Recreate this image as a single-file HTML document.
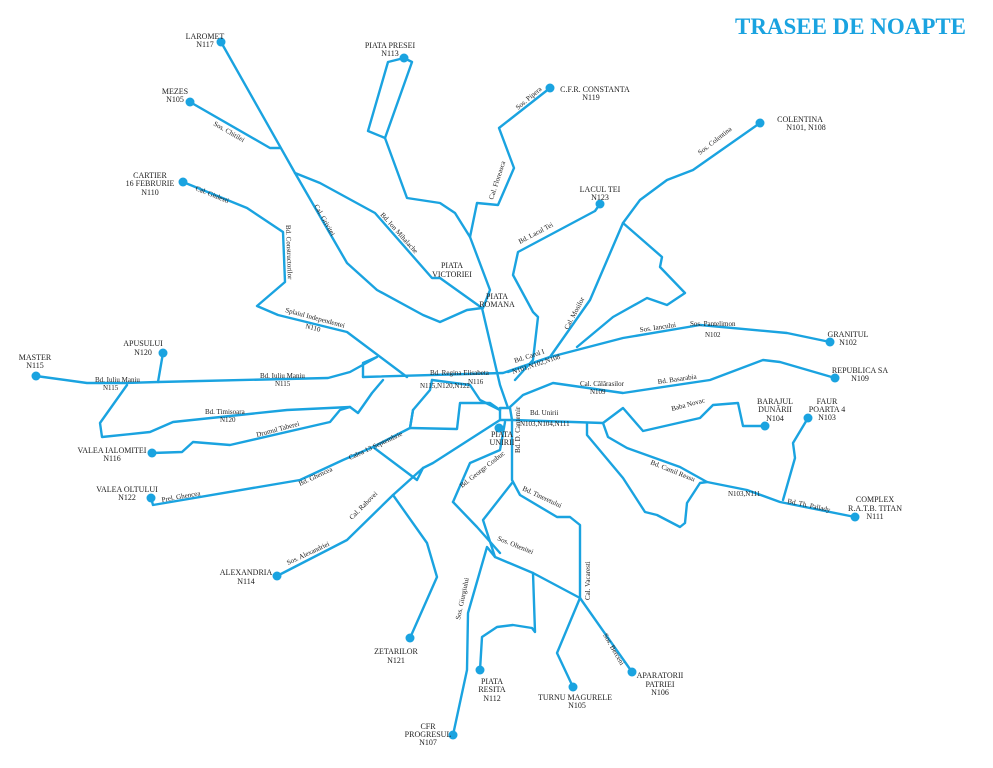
<!DOCTYPE html>
<html><head><meta charset="utf-8"><style>
html,body{margin:0;padding:0;background:#fff;}
svg{display:block;}
text{font-family:"Liberation Serif",serif;font-size:8px;fill:#222;}
.t{font-size:23px;font-weight:bold;fill:#1aa3e0;}
.s{font-size:7px;fill:#222;}
</style></head><body>
<svg width="993" height="768" viewBox="0 0 993 768" xmlns="http://www.w3.org/2000/svg">
<text class="t" x="735" y="34" textLength="231" lengthAdjust="spacingAndGlyphs">TRASEE DE NOAPTE</text>
<g fill="none" stroke="#1aa3e0" stroke-width="2.4" stroke-linejoin="round" stroke-linecap="round">
<polyline points="221,42 295,173 347,263 377,290 423,315 440,322 467,310 482,308"/>
<polyline points="190,102 270,148 280,148"/>
<polyline points="295,173 320,183 375,213 432,278 440,278 482,308"/>
<polyline points="183,182 247,208 283,232 285,282 257,306 278,315 347,332 407,377"/>
<polyline points="404,58 412,62 385,138 368,131 388,62 404,58"/>
<polyline points="385,138 407,198 440,203 455,213 470,237 490,290 483,308"/>
<polyline points="550,88 499,128 514,168 498,205 477,203 470,237"/>
<polyline points="482,308 500,385 508,408"/>
<polyline points="600,204 595,211 518,252 513,275 533,312 538,317 533,360 515,380"/>
<polyline points="760,123 693,170 667,180 640,200 623,223 590,300 550,357"/>
<polyline points="623,223 662,257 660,267 685,293 667,305 647,298 613,317 577,347"/>
<polyline points="508,372 550,357 623,338 700,325 787,333 830,342"/>
<polyline points="363,377 503,373 550,357"/>
<polyline points="510,407 523,395 553,383 623,393 710,380 763,360 780,362 835,378"/>
<polyline points="500,408 510,408 512,420 500,420 500,408"/>
<polyline points="512,420 603,423 623,408 643,431 700,418 713,405 738,403 743,426 765,426"/>
<polyline points="603,423 608,437 627,448 680,467 707,482 747,490 780,502 855,517"/>
<polyline points="808,418 793,443 795,458 783,500"/>
<polyline points="587,423 587,435 623,478 645,512 657,515 680,527 685,523 687,503 700,483 707,482"/>
<polyline points="512,420 512,480 520,495 557,517 570,517 580,525 580,598 557,653 573,687"/>
<polyline points="580,598 632,672"/>
<polyline points="512,483 483,520 495,557 533,573 580,598"/>
<polyline points="533,573 535,632 532,628 513,625 497,627 482,637 480,670"/>
<polyline points="453,735 467,670 468,613 487,547 495,557"/>
<polyline points="453,502 477,527 500,553"/>
<polyline points="453,502 470,463 500,450 505,422"/>
<polyline points="500,420 433,463 423,468 393,495 347,540 277,576"/>
<polyline points="393,495 427,543 437,577 410,638"/>
<polyline points="413,410 410,428 373,447 343,460 300,480 153,505 151,498"/>
<polyline points="373,447 417,480 423,468"/>
<polyline points="410,428 413,410 430,390 432,380"/>
<polyline points="410,428 457,429 460,403 490,403 500,410"/>
<polyline points="152,453 182,452 193,442 230,445 330,422 340,410 350,407 358,413 372,393 383,380"/>
<polyline points="350,407 287,410 173,422 150,432 102,437 100,423 127,385"/>
<polyline points="36,376 87,383 125,383 158,382 328,378 350,372 377,357 363,363 363,377"/>
<polyline points="163,353 158,382"/>
<polyline points="432,380 470,385 480,400 500,410"/>
</g>
<g fill="#1aa3e0">
<circle cx="221" cy="42" r="4.5"/><circle cx="190" cy="102" r="4.5"/><circle cx="183" cy="182" r="4.5"/>
<circle cx="404" cy="58" r="4.5"/><circle cx="550" cy="88" r="4.5"/><circle cx="600" cy="204" r="4.5"/>
<circle cx="760" cy="123" r="4.5"/><circle cx="830" cy="342" r="4.5"/><circle cx="835" cy="378" r="4.5"/>
<circle cx="765" cy="426" r="4.5"/><circle cx="808" cy="418" r="4.5"/><circle cx="855" cy="517" r="4.5"/>
<circle cx="573" cy="687" r="4.5"/><circle cx="632" cy="672" r="4.5"/><circle cx="480" cy="670" r="4.5"/>
<circle cx="453" cy="735" r="4.5"/><circle cx="410" cy="638" r="4.5"/><circle cx="277" cy="576" r="4.5"/>
<circle cx="151" cy="498" r="4.5"/><circle cx="152" cy="453" r="4.5"/><circle cx="36" cy="376" r="4.5"/>
<circle cx="163" cy="353" r="4.5"/><circle cx="499" cy="428" r="4.5"/>
</g>
<g text-anchor="middle">
<text x="205" y="39">LAROMET</text><text x="205" y="47">N117</text>
<text x="175" y="94">MEZES</text><text x="175" y="102">N105</text>
<text x="150" y="178">CARTIER</text><text x="150" y="186">16 FEBRURIE</text><text x="150" y="195">N110</text>
<text x="390" y="48">PIATA PRESEI</text><text x="390" y="56">N113</text>
<text x="595" y="92">C.F.R. CONSTANTA</text><text x="591" y="100">N119</text>
<text x="800" y="122">COLENTINA</text><text x="806" y="130">N101, N108</text>
<text x="600" y="192">LACUL TEI</text><text x="600" y="200">N123</text>
<text x="452" y="268">PIATA</text><text x="452" y="277">VICTORIEI</text>
<text x="497" y="299">PIATA</text><text x="497" y="307">ROMANA</text>
<text x="848" y="337">GRANITUL</text><text x="848" y="345">N102</text>
<text x="860" y="373">REPUBLICA SA</text><text x="860" y="381">N109</text>
<text x="775" y="404">BARAJUL</text><text x="775" y="412">DUNĂRII</text><text x="775" y="421">N104</text>
<text x="827" y="404">FAUR</text><text x="827" y="412">POARTA 4</text><text x="827" y="420">N103</text>
<text x="875" y="502">COMPLEX</text><text x="875" y="511">R.A.T.B. TITAN</text><text x="875" y="519">N111</text>
<text x="575" y="700">TURNU MAGURELE</text><text x="577" y="708">N105</text>
<text x="660" y="678">APARATORII</text><text x="660" y="687">PATRIEI</text><text x="660" y="695">N106</text>
<text x="492" y="684">PIATA</text><text x="492" y="692">RESITA</text><text x="492" y="701">N112</text>
<text x="428" y="729">CFR</text><text x="428" y="737">PROGRESUL</text><text x="428" y="745">N107</text>
<text x="396" y="654">ZETARILOR</text><text x="396" y="663">N121</text>
<text x="246" y="575">ALEXANDRIA</text><text x="246" y="584">N114</text>
<text x="127" y="492">VALEA OLTULUI</text><text x="127" y="500">N122</text>
<text x="112" y="453">VALEA IALOMITEI</text><text x="112" y="461">N116</text>
<text x="35" y="360">MASTER</text><text x="35" y="368">N115</text>
<text x="143" y="346">APUSULUI</text><text x="143" y="355">N120</text>
<text x="502" y="437">PIATA</text><text x="502" y="445">UNIRII</text>
</g>
<g class="s">
<text class="s" x="95" y="382">Bd. Iuliu Maniu</text><text class="s" x="103" y="390">N115</text>
<text class="s" x="260" y="378">Bd. Iuliu Maniu</text><text class="s" x="275" y="386">N115</text>
<text class="s" x="430" y="375">Bd. Regina Elisabeta</text><text class="s" x="468" y="384">N116</text>
<text class="s" x="420" y="388">N115,N120,N122</text>
<text class="s" x="205" y="414">Bd. Timisoara</text><text class="s" x="220" y="422">N120</text>
<text class="s" x="314" y="206" transform="rotate(60 314 206)">Cal. Grivitei</text>
<text class="s" x="380" y="215" transform="rotate(48 380 215)">Bd. Ion Mihalache</text>
<text class="s" x="285" y="312" transform="rotate(15 285 312)">Splaiul Independentei</text>
<text class="s" x="305" y="328" transform="rotate(15 305 328)">N110</text>
<text class="s" x="515" y="363" transform="rotate(-18 515 363)">Bd. Carol I</text>
<text class="s" x="513" y="374" transform="rotate(-18 513 374)">N101,N102,N108</text>
<text class="s" x="530" y="415">Bd. Unirii</text><text class="s" x="520" y="426">N103,N104,N111</text>
<text class="s" x="580" y="386">Cal. Călărasilor</text><text class="s" x="590" y="394">N109</text>
<text class="s" x="658" y="384" transform="rotate(-8 658 384)">Bd. Basarabia</text>
<text class="s" x="690" y="326">Sos. Pantelimon</text><text class="s" x="705" y="337">N102</text>
<text class="s" x="640" y="332" transform="rotate(-8 640 332)">Sos. Iancului</text>
<text class="s" x="650" y="464" transform="rotate(22 650 464)">Bd. Camil Ressu</text>
<text class="s" x="728" y="496">N103,N111</text>
<text class="s" x="787" y="503" transform="rotate(12 787 503)">Bd. Th. Pallady</text>
<text class="s" x="672" y="411" transform="rotate(-15 672 411)">Baba Novac</text>
<text class="s" x="700" y="155" transform="rotate(-38 700 155)">Sos. Colentina</text>
<text class="s" x="520" y="244" transform="rotate(-28 520 244)">Bd. Lacul Tei</text>
<text class="s" x="518" y="110" transform="rotate(-40 518 110)">Sos. Pipera</text>
<text class="s" x="493" y="200" transform="rotate(-72 493 200)">Cal. Floreasca</text>
<text class="s" x="568" y="330" transform="rotate(-62 568 330)">Cal. Mosilor</text>
<text class="s" x="213" y="125" transform="rotate(30 213 125)">Sos. Chitilei</text>
<text class="s" x="195" y="190" transform="rotate(22 195 190)">Cal. Giulesti</text>
<text class="s" x="286" y="225" transform="rotate(88 286 225)">Bd. Constructorilor</text>
<text class="s" x="462" y="488" transform="rotate(-38 462 488)">Bd. George Cosbuc</text>
<text class="s" x="350" y="460" transform="rotate(-25 350 460)">Calea 13 Septembrie</text>
<text class="s" x="300" y="486" transform="rotate(-25 300 486)">Bd. Ghencea</text>
<text class="s" x="162" y="502" transform="rotate(-10 162 502)">Prel. Ghencea</text>
<text class="s" x="288" y="565" transform="rotate(-25 288 565)">Sos. Alexandriei</text>
<text class="s" x="352" y="520" transform="rotate(-45 352 520)">Cal. Rahovei</text>
<text class="s" x="257" y="437" transform="rotate(-15 257 437)">Drumul Taberei</text>
<text class="s" x="590" y="600" transform="rotate(-90 590 600)">Cal. Vacaresti</text>
<text class="s" x="497" y="540" transform="rotate(22 497 540)">Sos. Oltenitei</text>
<text class="s" x="520" y="453" transform="rotate(-90 520 453)">Bd. D. Cantemir</text>
<text class="s" x="522" y="490" transform="rotate(25 522 490)">Bd. Tineretului</text>
<text class="s" x="460" y="620" transform="rotate(-78 460 620)">Sos. Giurgiului</text>
<text class="s" x="603" y="635" transform="rotate(60 603 635)">Sos. Berceni</text>
</g>
</svg>
</body></html>
